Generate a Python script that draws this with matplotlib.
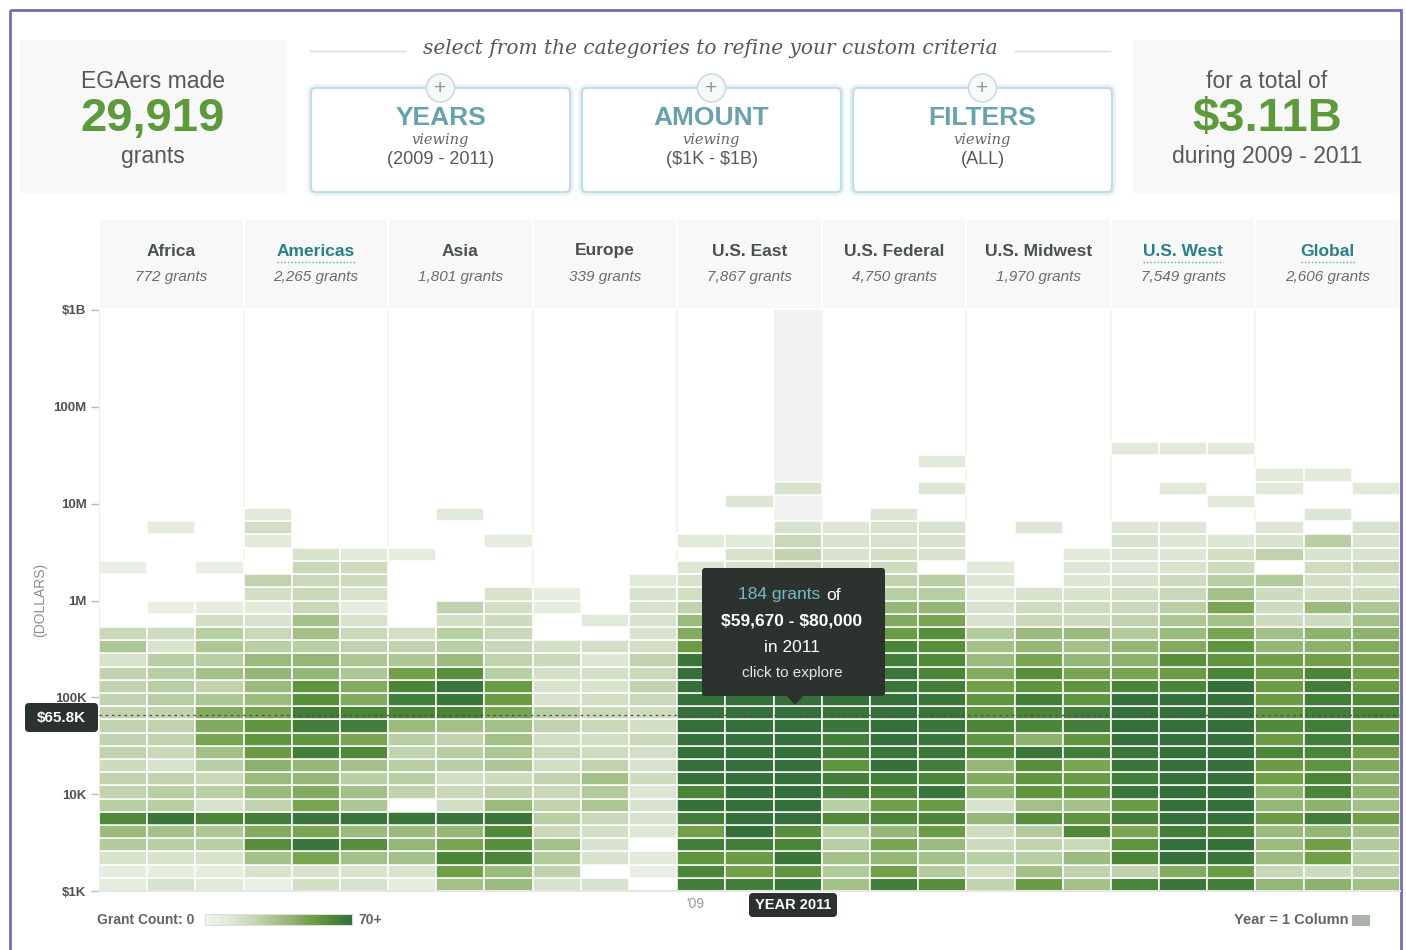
import numpy as np
import matplotlib
matplotlib.use('Agg')
import matplotlib.pyplot as plt
from matplotlib.colors import LinearSegmentedColormap
from matplotlib.patches import Rectangle, FancyBboxPatch, Circle, Polygon

plt.rcParams['font.family'] = ['Liberation Sans', 'DejaVu Sans']

# --- data: grant counts per amount bin (bottom row = $1K), one list per year column ---
africa = [
    [8, 8, 15, 30, 38, 60, 28, 25, 25, 20, 25, 25, 25, 25, 25, 25, 25, 15, 32, 22, 0, 0, 0, 0, 6],
    [15, 8, 15, 28, 35, 68, 28, 28, 25, 15, 22, 25, 25, 25, 28, 28, 28, 28, 15, 20, 0, 6, 0, 0, 0, 0, 0, 8],
    [10, 8, 15, 28, 32, 62, 15, 28, 22, 28, 35, 48, 45, 45, 32, 25, 35, 28, 32, 28, 18, 8, 0, 0, 6],
]
americas = [
    [6, 15, 35, 58, 45, 65, 25, 38, 38, 42, 52, 55, 55, 48, 38, 38, 40, 38, 28, 22, 15, 10, 18, 25, 0, 0, 10, 18, 10],
    [18, 15, 48, 68, 48, 68, 48, 45, 40, 40, 65, 55, 65, 65, 58, 55, 40, 40, 28, 35, 35, 22, 22, 22, 22, 15],
    [15, 15, 35, 58, 38, 68, 32, 35, 28, 35, 60, 48, 65, 62, 45, 45, 32, 32, 25, 22, 15, 8, 15, 20, 20, 10],
]
asia = [
    [8, 15, 35, 40, 38, 68, 0, 25, 28, 28, 25, 28, 38, 62, 65, 62, 50, 32, 25, 18, 0, 0, 0, 0, 0, 8],
    [35, 50, 62, 48, 40, 68, 18, 22, 18, 28, 28, 25, 35, 62, 68, 68, 58, 38, 28, 28, 18, 25, 0, 0, 0, 0, 0, 0, 10],
    [38, 38, 62, 58, 60, 68, 38, 25, 20, 32, 32, 35, 35, 48, 52, 52, 28, 25, 22, 22, 20, 18, 15, 0, 0, 0, 8],
]
europe = [
    [15, 25, 30, 35, 22, 28, 25, 22, 25, 18, 22, 18, 25, 28, 15, 15, 18, 22, 18, 0, 0, 8, 8],
    [15, 0, 15, 15, 18, 22, 32, 30, 35, 25, 20, 18, 22, 22, 18, 15, 18, 12, 18, 0, 10],
    [0, 6, 10, 0, 12, 15, 15, 12, 20, 15, 18, 22, 18, 20, 22, 25, 22, 25, 18, 15, 15, 15, 15, 10],
]
us_east = [
    [65, 62, 55, 65, 50, 65, 70, 62, 70, 70, 70, 70, 70, 70, 70, 70, 70, 68, 52, 45, 38, 25, 18, 15, 12, 0, 10],
    [65, 50, 52, 65, 70, 70, 70, 70, 70, 70, 70, 70, 70, 70, 70, 68, 65, 60, 50, 45, 38, 30, 25, 20, 15, 15, 10, 0, 0, 12],
    [68, 55, 68, 62, 58, 70, 70, 70, 70, 70, 70, 70, 70, 70, 70, 68, 65, 62, 55, 48, 40, 32, 28, 25, 20, 25, 22, 15, 0, 0, 15],
]
us_federal = [
    [35, 30, 35, 28, 28, 60, 28, 65, 65, 55, 65, 65, 68, 68, 70, 65, 60, 55, 45, 40, 32, 25, 22, 18, 15, 15, 15, 12],
    [65, 50, 40, 48, 40, 62, 50, 62, 65, 70, 68, 70, 70, 70, 70, 68, 68, 65, 62, 52, 45, 40, 28, 25, 20, 18, 15, 15, 12],
    [58, 30, 35, 38, 52, 62, 52, 68, 62, 65, 68, 68, 68, 68, 68, 65, 62, 60, 58, 58, 48, 40, 28, 28, 0, 15, 15, 15, 0, 0, 12, 0, 10],
]
us_midwest = [
    [25, 18, 28, 20, 20, 40, 15, 42, 45, 40, 62, 55, 62, 55, 55, 50, 45, 38, 35, 30, 15, 15, 10, 12, 10],
    [52, 35, 28, 25, 30, 58, 35, 55, 55, 58, 68, 42, 62, 62, 65, 55, 58, 48, 40, 38, 22, 20, 15, 0, 0, 0, 0, 12],
    [35, 25, 38, 22, 60, 55, 35, 55, 52, 48, 65, 55, 65, 65, 55, 55, 48, 40, 35, 38, 20, 20, 15, 12, 12, 10],
]
us_west = [
    [62, 25, 62, 55, 48, 65, 52, 68, 65, 68, 68, 70, 70, 70, 70, 62, 48, 42, 40, 30, 25, 22, 18, 15, 12, 12, 15, 12, 0, 0, 0, 0, 0, 10],
    [68, 45, 70, 70, 65, 70, 70, 70, 70, 70, 70, 70, 70, 70, 70, 62, 52, 58, 45, 38, 32, 28, 22, 20, 15, 12, 12, 12, 0, 0, 10, 0, 0, 10],
    [65, 52, 68, 70, 62, 70, 70, 70, 70, 70, 70, 70, 70, 70, 70, 70, 62, 55, 55, 48, 35, 48, 35, 28, 20, 18, 12, 0, 0, 10, 0, 0, 0, 10],
]
global_ = [
    [40, 22, 38, 38, 38, 52, 40, 42, 50, 52, 62, 52, 60, 55, 52, 52, 52, 50, 40, 35, 20, 20, 20, 30, 0, 25, 15, 12, 0, 0, 10, 10],
    [42, 20, 50, 50, 40, 65, 42, 62, 62, 55, 62, 65, 65, 65, 65, 65, 62, 50, 42, 42, 20, 38, 18, 18, 20, 15, 28, 0, 12, 0, 0, 10],
    [35, 25, 28, 30, 35, 50, 35, 42, 42, 45, 50, 62, 52, 62, 60, 52, 50, 48, 45, 42, 35, 32, 20, 15, 22, 15, 15, 15, 0, 0, 10],
]

regions = ['Africa', 'Americas', 'Asia', 'Europe', 'U.S. East', 'U.S. Federal',
           'U.S. Midwest', 'U.S. West', 'Global']
region_grants = ['772 grants', '2,265 grants', '1,801 grants', '339 grants', '7,867 grants',
                 '4,750 grants', '1,970 grants', '7,549 grants', '2,606 grants']
linked_regions = ['Americas', 'U.S. West', 'Global']
region_data = [africa, americas, asia, europe, us_east, us_federal, us_midwest, us_west, global_]

ytick_vals = [1e3, 1e4, 1e5, 1e6, 1e7, 1e8, 1e9]
ytick_labels = ['$1K', '10K', '100K', '1M', '10M', '100M', '$1B']
n_rows = 44
median_amount = 65800
highlight_col = 14  # U.S. East, 2011

cmap = LinearSegmentedColormap.from_list('grants', [
    (0.0, '#f3f7ef'), (10 / 70, '#e2eada'), (20 / 70, '#cddcbf'), (30 / 70, '#b3ca9c'),
    (40 / 70, '#94b676'), (50 / 70, '#72a048'), (60 / 70, '#508a38'), (1.0, '#35703a')])

W, H = 1406, 950
fig = plt.figure(figsize=(W / 100, H / 100), dpi=100)
fig.patch.set_facecolor('white')

# background axes in pixel coords
bg = fig.add_axes([0, 0, 1, 1], zorder=0)
bg.set_xlim(0, W)
bg.set_ylim(H, 0)
bg.axis('off')

grey = '#555a55'

# purple frame
bg.add_patch(Rectangle((10, 10), 1391, 960, fill=False, ec='#7d68b4', lw=2))

# summary panels
for x0 in (20, 1133):
    bg.add_patch(Rectangle((x0, 40), 267, 153, fc='#f7f8f7', ec='none'))
bg.text(153, 81, 'EGAers made', ha='center', va='center', fontsize=16.5, color=grey)
bg.text(153, 119, '29,919', ha='center', va='center', fontsize=34, fontweight='bold', color='#5e9a3c')
bg.text(153, 156, 'grants', ha='center', va='center', fontsize=16.5, color=grey)
bg.text(1267, 81, 'for a total of', ha='center', va='center', fontsize=16.5, color=grey)
bg.text(1267, 119, r'\$3.11B', ha='center', va='center', fontsize=34, fontweight='bold', color='#5e9a3c')
bg.text(1267, 156, 'during 2009 - 2011', ha='center', va='center', fontsize=16.5, color=grey)

# category selector
bg.text(710, 49, 'select from the categories to refine your custom criteria', ha='center', va='center',
        fontsize=14.5, style='italic', family='DejaVu Serif', color=grey)
bg.plot([310, 405], [51, 51], color='#dadada', lw=1)
bg.plot([1015, 1110], [51, 51], color='#dadada', lw=1)
selectors = [('YEARS', '(2009 - 2011)', 311), ('AMOUNT', r'(\$1K - \$1B)', 582), ('FILTERS', '(ALL)', 853)]
for title, sub, x0 in selectors:
    bg.add_patch(FancyBboxPatch((x0, 88), 259, 104, boxstyle='round,pad=0,rounding_size=5',
                                fc='white', ec='#e4f2f6', lw=5))
    bg.add_patch(FancyBboxPatch((x0, 88), 259, 104, boxstyle='round,pad=0,rounding_size=5',
                                fc='white', ec='#b7dce6', lw=1.3))
    cx = x0 + 129.5
    bg.add_patch(Circle((cx, 88), 14, fc='#f7f9f9', ec='#c8dde2', lw=1.2))
    bg.text(cx, 88, '+', ha='center', va='center', fontsize=15, color='#8a9a9c')
    bg.text(cx, 118, title, ha='center', va='center', fontsize=19, fontweight='bold', color='#67a2ad')
    bg.text(cx, 140, 'viewing', ha='center', va='center', fontsize=10.5, style='italic',
            family='DejaVu Serif', color='#666')
    bg.text(cx, 160, sub, ha='center', va='center', fontsize=13, color=grey)

# region headers
x_left, x_right = 99, 1400
n_cols = len(regions) * 3
col_w = (x_right - x_left) / n_cols
name_texts = []
for i, (name, cnt) in enumerate(zip(regions, region_grants)):
    rx = x_left + i * 3 * col_w
    bg.add_patch(Rectangle((rx + 1, 220), 3 * col_w - 2, 88, fc='#f7f8f7', ec='none'))
    cx = rx + 1.5 * col_w
    color = '#2a8088' if name in linked_regions else '#4a524c'
    t = bg.text(cx, 251, name, ha='center', va='center', fontsize=12.5, fontweight='bold', color=color)
    name_texts.append((name, t))
    bg.text(cx, 277, cnt, ha='center', va='center', fontsize=11, style='italic', color='#6a6e6a')

bg.text(40, 600, '(DOLLARS)', ha='center', va='center', rotation=90, fontsize=10, color='#8a8e8a')

# legend: grant count gradient
bg.text(97, 920, 'Grant Count: 0', ha='left', va='center', fontsize=10, fontweight='bold', color='#60655f')
grad = np.linspace(0, 70, 256).reshape(1, -1)
bg.imshow(grad, cmap=cmap, vmin=0, vmax=70, extent=(205, 352, 925, 914), aspect='auto', zorder=1)
bg.add_patch(Rectangle((205, 914), 147, 11, fill=False, ec='#dddddd', lw=0.8, zorder=2))
bg.text(358, 920, '70+', ha='left', va='center', fontsize=10, fontweight='bold', color='#60655f')
bg.text(1348, 920, 'Year = 1 Column', ha='right', va='center', fontsize=10.5, fontweight='bold',
        color='#60655f')
bg.add_patch(Rectangle((1352, 915), 18, 11, fc='#aab2aa', ec='none'))
bg.text(695, 904, "'09", ha='center', va='center', fontsize=10, color='#999999')
bg.set_xlim(0, W)
bg.set_ylim(H, 0)

# heatmap axes
ax = fig.add_axes([x_left / W, (H - 891) / H, (x_right - x_left) / W, (891 - 310) / H], zorder=1)
ax.patch.set_alpha(0)
y_edges = np.logspace(3, 9, n_rows + 1)
ax.axvspan(highlight_col, highlight_col + 1, fc='#f1f1f1', ec='none', zorder=0)
for xb in range(3, n_cols, 3):
    ax.axvline(xb, color='#f3f5ee', lw=1.5, zorder=0.5)

for r, reg in enumerate(region_data):
    for y, col in enumerate(reg):
        xi = r * 3 + y
        vals = np.array(col, dtype=float)
        rows = np.nonzero(vals)[0]
        ax.bar(np.full(len(rows), xi), y_edges[rows + 1] - y_edges[rows], bottom=y_edges[rows],
               width=1, align='edge', color=cmap(np.clip(vals[rows], 0, 70) / 70),
               edgecolor='white', linewidth=1.1, zorder=1)

ax.axhline(median_amount, color='#4a4f4a', ls=(0, (2, 3)), lw=0.9, zorder=3)
ax.set_yscale('log')
ax.set_xlim(0, n_cols)
ax.set_ylim(1e3, 1e9)
ax.set_xticks([])
ax.set_yticks(ytick_vals)
ax.set_yticklabels(ytick_labels, fontweight='bold')
ax.yaxis.set_minor_locator(matplotlib.ticker.NullLocator())
ax.tick_params(axis='y', length=6, width=1, color='#bbbbbb', labelsize=9.5, labelcolor='#4e544e', pad=3)
for s in ('top', 'right'):
    ax.spines[s].set_visible(False)
ax.spines['left'].set_color('#eceee8')
ax.spines['bottom'].set_color('#e6e6e6')
ax.spines['bottom'].set_linewidth(1.5)

# overlay axes: tooltip and markers
ov = fig.add_axes([0, 0, 1, 1], zorder=2)
ov.set_xlim(0, W)
ov.set_ylim(H, 0)
ov.axis('off')
ov.patch.set_alpha(0)

ov.add_patch(FancyBboxPatch((702, 568), 183, 128, boxstyle='round,pad=0,rounding_size=3',
                            fc='#2c332e', ec='none'))
ov.add_patch(Polygon([(786, 695), (804, 695), (795, 705)], closed=True, fc='#2c332e', ec='none'))
ov.text(820, 595, '184 grants', ha='right', va='center', fontsize=12.5, color='#72b9c6')
ov.text(826, 595, 'of', ha='left', va='center', fontsize=12.5, color='white')
ov.text(792, 621, r'\$59,670 - \$80,000', ha='center', va='center', fontsize=12.5, fontweight='bold',
        color='white')
ov.text(792, 647, 'in 2011', ha='center', va='center', fontsize=12.5, color='white')
ov.text(792, 673, 'click to explore', ha='center', va='center', fontsize=11, color='#e6e6e6')

ov.add_patch(FancyBboxPatch((25, 703), 73, 29, boxstyle='round,pad=0,rounding_size=4',
                            fc='#2b312d', ec='none'))
ov.text(61, 718, r'\$65.8K', ha='center', va='center', fontsize=11, fontweight='bold', color='white')
ov.add_patch(FancyBboxPatch((749, 893), 88, 24, boxstyle='round,pad=0,rounding_size=4',
                            fc='#2b312d', ec='none'))
ov.text(793, 905, 'YEAR 2011', ha='center', va='center', fontsize=10.5, fontweight='bold', color='white')

# dotted underline under linked region names
fig.canvas.draw()
renderer = fig.canvas.get_renderer()
inv = bg.transData.inverted()
for name, t in name_texts:
    if name in linked_regions:
        bb = t.get_window_extent(renderer)
        (x0, _), (x1, _) = inv.transform([(bb.x0, bb.y0), (bb.x1, bb.y0)])
        bg.plot([x0, x1], [262, 262], color='#4ab4c0', lw=1, ls=(0, (1, 1.5)))

fig.savefig('out.png', dpi=100, facecolor='white')
